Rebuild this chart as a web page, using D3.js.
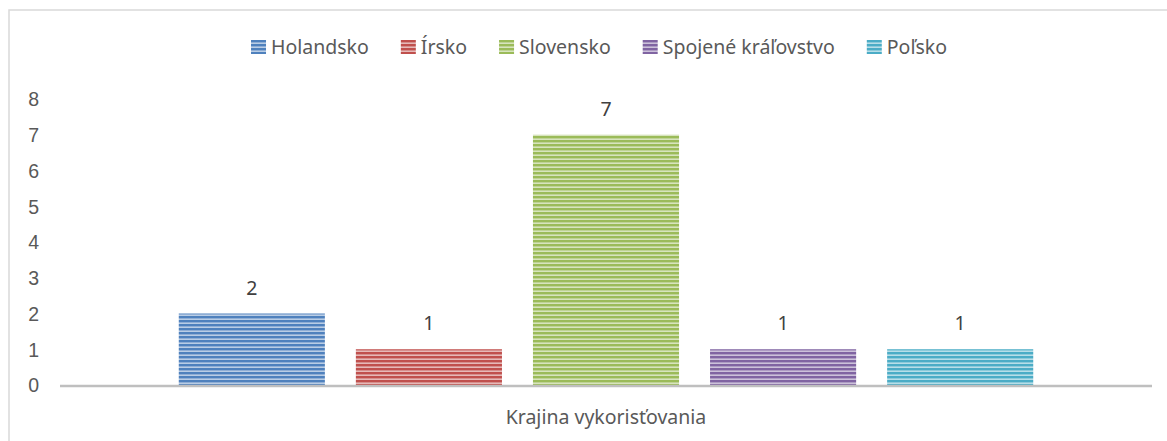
<!DOCTYPE html>
<html>
<head>
<meta charset="utf-8">
<script src="https://cdn.jsdelivr.net/npm/d3@7"></script>
<style>
  body { margin: 0; background: #fff; }
  svg { display: block; font-family: 'Noto Sans', sans-serif; }
</style>
</head>
<body>
<div class="canvas"></div>
<script>
const category = 'Krajina vykorisťovania';
const seriesNames = ['Holandsko', 'Írsko', 'Slovensko', 'Spojené kráľovstvo', 'Poľsko'];
const seriesValues = [2, 1, 7, 1, 1];
const seriesColors = ['#4f81bd', '#c0504d', '#9bbb59', '#8064a2', '#4bacc6'];
const yTicks = [0, 1, 2, 3, 4, 5, 6, 7, 8];

const width = 1167;
const height = 441;
const margin = { top: 99, right: 15, bottom: 56, left: 60 };
const fontSize = 19.5;
const legendGap = 32;

const svg = d3.select('.canvas')
    .append('svg')
    .attr('width', width)
    .attr('height', height)
;

// chart frame
svg.append('rect')
    .attr('x', 9)
    .attr('y', 10)
    .attr('width', width + 20)
    .attr('height', height + 20)
    .attr('fill', '#fff')
    .attr('stroke', '#d9d9d9')
    .attr('stroke-width', 1.5)
;

// striped patterns
const defs = svg.append('defs');
seriesColors.forEach((c, i) => {
    const light = d3.interpolateRgb(c, '#fff')(0.6);
    const mid = d3.interpolateRgb(c, '#fff')(0.3);
    const p = defs.append('pattern')
        .attr('id', 'stripe' + i)
        .attr('patternUnits', 'userSpaceOnUse')
        .attr('width', 8)
        .attr('height', 4)
    ;
    p.append('rect').attr('width', 8).attr('height', 4).attr('fill', light);
    p.append('rect').attr('y', 0).attr('width', 8).attr('height', 2).attr('fill', c);
    p.append('rect').attr('y', 2).attr('width', 8).attr('height', 0.8).attr('fill', mid);
});

// scales
const x0 = d3.scaleBand()
    .domain([category])
    .range([margin.left, width - margin.right])
    .paddingOuter(0.139)
;
const x1 = d3.scaleBand()
    .domain(seriesNames)
    .range([0, x0.bandwidth()])
    .paddingInner(0.175)
;
const y = d3.scaleLinear()
    .domain([0, 8])
    .range([height - margin.bottom, margin.top])
;

// y tick labels
const yAxis = d3.axisLeft(y).tickValues(yTicks).tickSize(0).tickPadding(0);
const yAxisGroup = svg.append('g')
    .attr('transform', 'translate(39, 0)')
    .call(yAxis)
;
yAxisGroup.select('.domain').remove();
yAxisGroup.selectAll('text')
    .attr('font-size', fontSize)
    .attr('fill', '#595959')
    .attr('text-anchor', 'end')
    .attr('dy', '0.35em')
;

// bars
const bars = svg.append('g');
seriesNames.forEach((s, i) => {
    const bx = x0(category) + x1(s);
    bars.append('rect')
        .attr('x', bx)
        .attr('y', y(seriesValues[i]))
        .attr('width', x1.bandwidth())
        .attr('height', y(0) - y(seriesValues[i]))
        .attr('fill', `url(#stripe${i})`)
    ;
    bars.append('text')
        .attr('x', bx + x1.bandwidth() / 2)
        .attr('y', y(seriesValues[i]) - 19)
        .attr('text-anchor', 'middle')
        .attr('font-size', fontSize)
        .attr('fill', '#404040')
        .text(seriesValues[i])
    ;
});

// x axis line
svg.append('line')
    .attr('x1', margin.left)
    .attr('x2', width - margin.right)
    .attr('y1', y(0) + 1)
    .attr('y2', y(0) + 1)
    .attr('stroke', '#bfbfbf')
    .attr('stroke-width', 2.5)
;

// x category label
svg.append('text')
    .attr('x', x0(category) + x0.bandwidth() / 2)
    .attr('y', 424)
    .attr('text-anchor', 'middle')
    .attr('font-size', fontSize)
    .attr('fill', '#595959')
    .text(category)
;

// legend
const legend = svg.append('g');
let lx = 0;
seriesNames.forEach((s, i) => {
    const item = legend.append('g').attr('transform', `translate(${lx}, 0)`);
    item.append('rect')
        .attr('x', 0)
        .attr('y', 40)
        .attr('width', 15)
        .attr('height', 14)
        .attr('fill', `url(#stripe${i})`)
    ;
    const t = item.append('text')
        .attr('x', 20)
        .attr('y', 54)
        .attr('font-size', fontSize)
        .attr('fill', '#595959')
        .text(s)
    ;
    lx += 20 + t.node().getComputedTextLength() + legendGap;
});
const legendWidth = lx - legendGap;
legend.attr('transform', `translate(${599 - legendWidth / 2}, 0)`);
</script>
</body>
</html>
